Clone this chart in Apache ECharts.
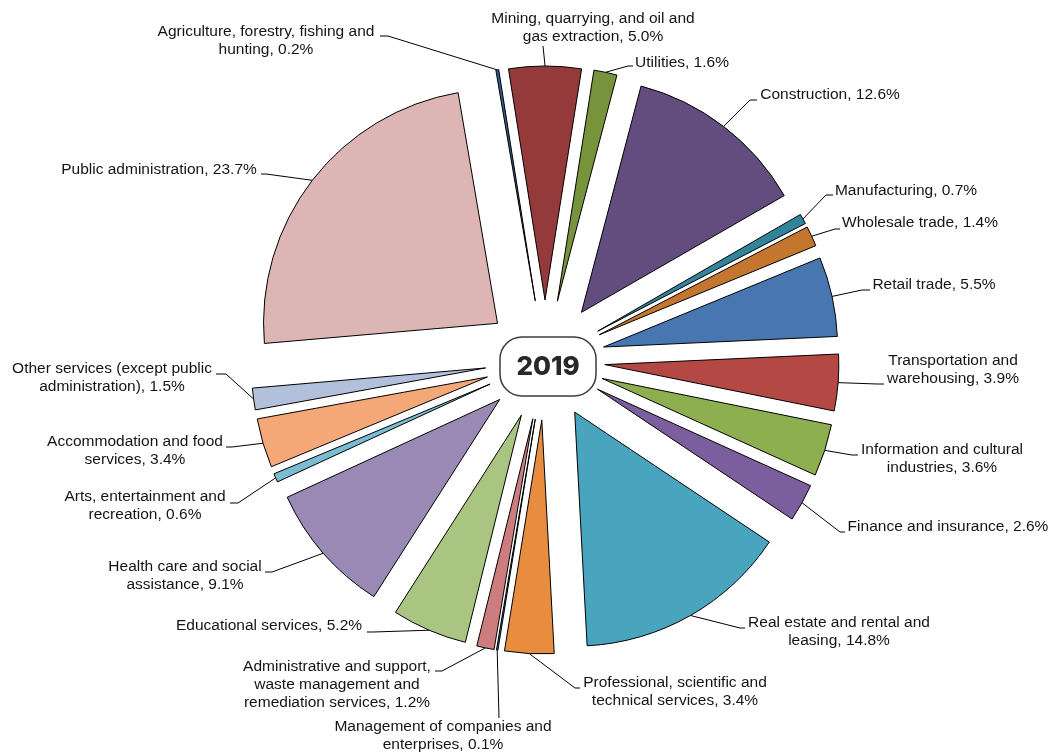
<!DOCTYPE html>
<html>
<head>
<meta charset="utf-8">
<title>GDP by industry, 2019</title>
<script src="https://cdn.jsdelivr.net/npm/echarts@6/dist/echarts.min.js"></script>
<style>
  html, body { margin: 0; padding: 0; background: #ffffff; }
  #chart { width: 1052px; height: 753px; }
</style>
</head>
<body>
<div id="chart"></div>
<script>
// Industry names (line breaks mark where each label wraps)
const categories = [
  'Agriculture, forestry, fishing and\nhunting',
  'Mining, quarrying, and oil and\ngas extraction',
  'Utilities',
  'Construction',
  'Manufacturing',
  'Wholesale trade',
  'Retail trade',
  'Transportation and\nwarehousing',
  'Information and cultural\nindustries',
  'Finance and insurance',
  'Real estate and rental and\nleasing',
  'Professional, scientific and\ntechnical services',
  'Management of companies and\nenterprises',
  'Administrative and support,\nwaste management and\nremediation services',
  'Educational services',
  'Health care and social\nassistance',
  'Arts, entertainment and\nrecreation',
  'Accommodation and food\nservices',
  'Other services (except public\nadministration)',
  'Public administration'
];

// Share of total, percent
const shares = [0.2, 5.0, 1.6, 12.6, 0.7, 1.4, 5.5, 3.9, 3.6, 2.6,
                14.8, 3.4, 0.1, 1.2, 5.2, 9.1, 0.6, 3.4, 1.5, 23.7];

const sliceColors = [
  '#2f5d8f', '#943a3a', '#77933c', '#634c7e', '#31849b',
  '#c4762f', '#4776b1', '#b34845', '#8daf4f', '#7b5e9e',
  '#49a4bd', '#e88d40', '#3a6aa0', '#cd7d7d', '#aac581',
  '#9a89b4', '#7abdd3', '#f5a877', '#b1c1dc', '#ddb5b5'
];

// Pie geometry
const CX = 545, CY = 360, RADIUS = 234, EXPLODE = 60, START_ANGLE = 99.7;

// Label placement: [centerX, centerY, kneeX, kneeY, endX, endY]
const labelPlacement = [
  [266, 41, 388, 36, 380, 36],
  [593, 28, 543, 46, 543, 46],
  [682, 63, 628, 66, 633, 66],
  [830, 95, 750, 100, 757, 100],
  [906, 191, 826, 195, 833, 195],
  [920, 223, 835, 229, 840, 229],
  [934, 285, 862, 290, 870, 290],
  [953, 370, 877, 384, 884, 384],
  [942, 459, 852, 455, 858, 455],
  [948, 527, 840, 532, 845, 532],
  [839, 632, 740, 628, 745, 628],
  [675, 692, 575, 688, 580, 688],
  [443, 736, 499, 718, 499, 718],
  [337, 685, 442, 671, 435, 671],
  [269, 626, 373, 632, 367, 632],
  [185, 576, 272, 572, 265, 572],
  [145, 506, 238, 503, 230, 503],
  [135, 451, 232, 447, 226, 447],
  [112, 378, 226, 374, 216, 374],
  [159, 170, 266, 174, 261, 174]
];

const total = shares.reduce((s, v) => s + v, 0);

// Mid angle (radians, counter-clockwise from 3 o'clock) of slice i
function midAngle(i) {
  let cum = 0;
  for (let k = 0; k < i; k++) cum += shares[k];
  const deg = START_ANGLE - 360 * (cum + shares[i] / 2) / total;
  return deg * Math.PI / 180;
}

const textFont = '"Liberation Sans", Arial, sans-serif';

const chart = echarts.init(document.getElementById('chart'), null, { renderer: 'canvas' });

chart.setOption({
  animation: false,
  backgroundColor: '#ffffff',
  graphic: [
    {
      type: 'rect',
      shape: { x: 500, y: 337, width: 96, height: 59, r: 22 },
      style: { fill: '#ffffff', stroke: '#3c3c3c', lineWidth: 1.5 },
      z: 10
    },
    {
      type: 'text',
      x: 548, y: 367,
      style: {
        text: '2019',
        align: 'center',
        verticalAlign: 'middle',
        font: '800 26px Inter, "Open Sans", sans-serif',
        fill: '#2b2727'
      },
      z: 11
    }
  ],
  series: [
    {
      // Exploded slices
      type: 'pie',
      center: [CX, CY],
      radius: RADIUS,
      startAngle: START_ANGLE,
      clockwise: true,
      selectedMode: 'multiple',
      selectedOffset: EXPLODE,
      avoidLabelOverlap: false,
      silent: true,
      label: { show: false },
      labelLine: { show: false },
      emphasis: { disabled: true },
      itemStyle: { borderColor: '#000000', borderWidth: 1 },
      select: { itemStyle: { borderColor: '#000000', borderWidth: 1 } },
      data: categories.map((name, i) => ({
        name: name,
        value: shares[i],
        selected: true,
        itemStyle: { color: sliceColors[i] }
      }))
    },
    {
      // Labels and leader lines
      type: 'pie',
      center: [CX, CY],
      radius: RADIUS,
      startAngle: START_ANGLE,
      clockwise: true,
      avoidLabelOverlap: false,
      silent: true,
      emphasis: { disabled: true },
      itemStyle: { color: 'rgba(0,0,0,0)', borderWidth: 0 },
      label: {
        show: true,
        position: 'outside',
        formatter: p => p.name + ', ' + p.value.toFixed(1) + '%',
        fontFamily: textFont,
        fontSize: 15.5,
        lineHeight: 18,
        color: '#141414',
        align: 'center'
      },
      labelLine: {
        show: true,
        length: 10,
        length2: 10,
        lineStyle: { color: '#000000', width: 1 }
      },
      labelLayout: function (p) {
        const i = p.dataIndex;
        const L = labelPlacement[i];
        const a = midAngle(i);
        const x0 = CX + (EXPLODE + RADIUS) * Math.cos(a);
        const y0 = CY - (EXPLODE + RADIUS) * Math.sin(a);
        return {
          x: L[0],
          y: L[1],
          align: 'center',
          verticalAlign: 'middle',
          labelLinePoints: [[x0, y0], [L[2], L[3]], [L[4], L[5]]]
        };
      },
      data: categories.map((name, i) => ({ name: name, value: shares[i] }))
    }
  ]
});
</script>
</body>
</html>
